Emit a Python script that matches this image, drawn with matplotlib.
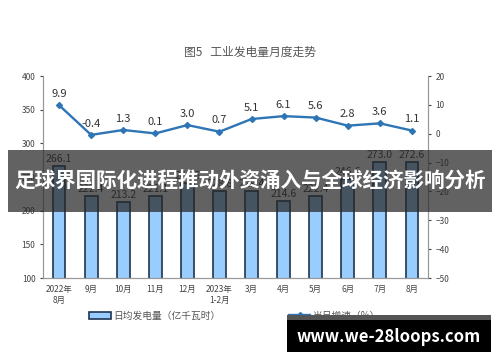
import matplotlib.pyplot as plt
from matplotlib.patches import Rectangle

plt.rcParams['font.family'] = ['Noto Sans CJK SC', 'DejaVu Sans']

months = ['2022年\n8月', '9月', '10月', '11月', '12月', '2023年\n1-2月',
          '3月', '4月', '5月', '6月', '7月', '8月']
daily_gen = [266.1, 222.4, 213.2, 221.1, 241.5, 228.8,
             229.4, 214.6, 222.4, 246.6, 273.0, 272.6]
growth = [9.9, -0.4, 1.3, 0.1, 3.0, 0.7, 5.1, 6.1, 5.6, 2.8, 3.6, 1.1]

fig = plt.figure(figsize=(5, 3.62), dpi=100)
ax = fig.add_axes([0.086, 0.232, 0.77, 0.558])
ax2 = ax.twinx()

x = list(range(len(months)))
bars = ax.bar(x, daily_gen, width=0.4, color='#99ccff', edgecolor='#1f3550',
              linewidth=1.2, zorder=2)
for xi, v in zip(x, daily_gen):
    ax.text(xi, v + 3, '%.1f' % v, ha='center', va='bottom', fontsize=7.5,
            color='#333333')

ax.set_ylim(100, 400)
ax.set_yticks(range(100, 401, 50))
ax.set_xlim(-0.5, len(months) - 0.5)
ax.set_xticks(x)
ax.set_xticklabels(months, fontsize=6, color='#444444', linespacing=1.3)
ax.tick_params(axis='y', labelsize=6, colors='#444444', length=2)
ax.tick_params(axis='x', length=0, pad=5)

line, = ax2.plot(x, growth, color='#2e75b6', linewidth=1.7, marker='D',
                 markersize=3, zorder=3)
for xi, v in zip(x, growth):
    ax2.text(xi, v + 2.2, '%.1f' % v, ha='center', va='bottom', fontsize=8,
             color='#333333')
ax2.set_ylim(-50, 20)
ax2.set_yticks(range(-50, 21, 10))
ax2.tick_params(axis='y', labelsize=6, colors='#444444', length=2)

for a in (ax, ax2):
    a.spines['top'].set_visible(False)
    for s in ('left', 'right', 'bottom'):
        a.spines[s].set_color('#999999')
        a.spines[s].set_linewidth(0.8)

fig.text(0.5, 0.855, '图5   工业发电量月度走势', ha='center', va='center',
         fontsize=8.5, color='#555555')

# legend
fig.legend([bars, line], ['日均发电量（亿千瓦时）', '当月增速（%）'],
           loc='center', bbox_to_anchor=(0.47, 0.128), ncol=2, frameon=False,
           fontsize=7, handlelength=2.2, handletextpad=0.3, columnspacing=7,
           labelcolor='#555555')

# overlay banner
fig.patches.append(Rectangle((0.016, 0.415), 0.968, 0.17,
                             transform=fig.transFigure, facecolor='#262626',
                             alpha=0.72, zorder=10))
fig.text(0.5, 0.5, '足球界国际化进程推动外资涌入与全球经济影响分析',
         ha='center', va='center', fontsize=14.8, fontweight='bold',
         color='white', zorder=11)

# site tag
fig.patches.append(Rectangle((0.574, 0.028), 0.408, 0.102,
                             transform=fig.transFigure, facecolor='black',
                             zorder=10))
fig.patches.append(Rectangle((0.574, 0.115), 0.408, 0.016,
                             transform=fig.transFigure, facecolor='#555555',
                             zorder=11))
fig.text(0.778, 0.07, 'www.we-28loops.com', ha='center', va='center',
         fontsize=12, fontweight='bold', color='white', zorder=12)

fig.savefig('out.png', dpi=100)
